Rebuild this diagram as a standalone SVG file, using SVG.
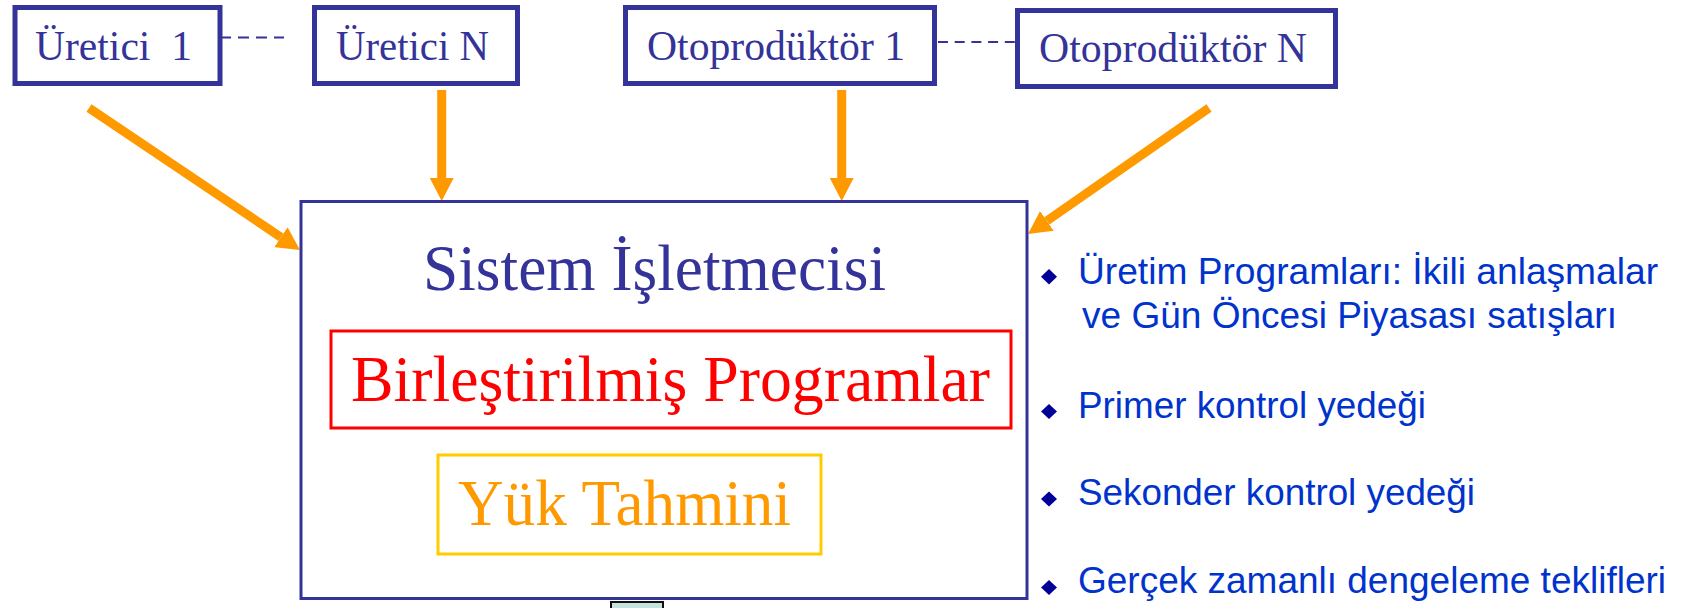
<svg xmlns="http://www.w3.org/2000/svg" width="1686" height="608" viewBox="0 0 1686 608">
  <style>
    .top { fill: #ffffff; stroke: #333399; stroke-width: 5; }
    .toptxt { font-family: "Liberation Serif", "Times New Roman", serif; font-size: 43px; fill: #333399; }
    .dash { stroke: #333399; stroke-width: 2.2; fill: none; }
    .arrow { stroke: #FF9900; stroke-width: 9; fill: none; marker-end: url(#head); }
    .big { fill: #ffffff; stroke: #333399; stroke-width: 3; }
    .serif { font-family: "Liberation Serif", "Times New Roman", serif; font-size: 66px; }
    .bul { font-family: "Liberation Sans", Arial, sans-serif; font-size: 37px; fill: #0033CC; }
    .dot { fill: #000099; }
  </style>
  <defs>
    <marker id="head" viewBox="0 0 23 24" markerWidth="23" markerHeight="24" refX="0" refY="12" markerUnits="userSpaceOnUse" orient="auto">
      <path d="M0,0 L23,12 L0,24 Z" fill="#FF9900"/>
    </marker>
  </defs>
  <rect width="1686" height="608" fill="#ffffff"/>

  <g id="connectors">
    <line class="dash" x1="220" y1="37.5" x2="284" y2="37.5" stroke-dasharray="11 7"/>
    <line class="dash" x1="938" y1="42" x2="1015" y2="42" stroke-dasharray="10 6.7"/>
    <line class="arrow" x1="89" y1="108" x2="280.9" y2="237.2"/>
    <line class="arrow" x1="441.7" y1="90" x2="441.7" y2="178"/>
    <line class="arrow" x1="841.7" y1="90" x2="841.7" y2="178"/>
    <line class="arrow" x1="1209" y1="108" x2="1046.9" y2="220.9"/>
  </g>

  <g id="uretici1">
    <rect class="top" x="15" y="7.5" width="205" height="76"/>
    <text class="toptxt" x="35" y="60" textLength="157" lengthAdjust="spacingAndGlyphs">Üretici&#160; 1</text>
  </g>
  <g id="ureticiN">
    <rect class="top" x="314.5" y="7.5" width="203" height="76"/>
    <text class="toptxt" x="336" y="60" textLength="153" lengthAdjust="spacingAndGlyphs">Üretici N</text>
  </g>
  <g id="otoproduktor1">
    <rect class="top" x="625.5" y="7.5" width="309" height="76"/>
    <text class="toptxt" x="647" y="60" textLength="258" lengthAdjust="spacingAndGlyphs">Otoprodüktör 1</text>
  </g>
  <g id="otoproduktorN">
    <rect class="top" x="1017.5" y="10.5" width="318" height="76"/>
    <text class="toptxt" x="1039" y="62" textLength="268" lengthAdjust="spacingAndGlyphs">Otoprodüktör N</text>
  </g>

  <g id="sistem-isletmecisi">
    <rect class="big" x="301" y="201.5" width="726" height="397"/>
    <text class="serif" x="423" y="290" fill="#333399" textLength="463" lengthAdjust="spacingAndGlyphs">Sistem İşletmecisi</text>
  </g>
  <g id="birlestirilmis-programlar">
    <rect x="331" y="331" width="680" height="97" fill="none" stroke="#FF0000" stroke-width="3"/>
    <text class="serif" x="351" y="401" fill="#FF0000" textLength="639" lengthAdjust="spacingAndGlyphs">Birleştirilmiş Programlar</text>
  </g>
  <g id="yuk-tahmini">
    <rect x="438" y="455" width="383" height="99" fill="none" stroke="#FFCC00" stroke-width="3"/>
    <text class="serif" x="458" y="525" fill="#FF9900" textLength="333" lengthAdjust="spacingAndGlyphs">Yük Tahmini</text>
  </g>

  <g id="small-tab">
    <rect x="611" y="602" width="52" height="8" fill="#C4E2DE" stroke="#111111" stroke-width="2"/>
  </g>

  <g id="bullets">
    <path class="dot" d="M1049,269 L1057,276.7 L1049,284.4 L1041,276.7 Z"/>
    <text class="bul" x="1078" y="284" textLength="580" lengthAdjust="spacingAndGlyphs">Üretim Programları: İkili anlaşmalar</text>
    <text class="bul" x="1082" y="328" textLength="535" lengthAdjust="spacingAndGlyphs">ve Gün Öncesi Piyasası satışları</text>
    <path class="dot" d="M1049,404 L1057,411.5 L1049,419 L1041,411.5 Z"/>
    <text class="bul" x="1078" y="418" textLength="348" lengthAdjust="spacingAndGlyphs">Primer kontrol yedeği</text>
    <path class="dot" d="M1049,491.5 L1057,499 L1049,506.5 L1041,499 Z"/>
    <text class="bul" x="1078" y="505" textLength="397" lengthAdjust="spacingAndGlyphs">Sekonder kontrol yedeği</text>
    <path class="dot" d="M1049,580 L1057,587.5 L1049,595 L1041,587.5 Z"/>
    <text class="bul" x="1078" y="593" textLength="588" lengthAdjust="spacingAndGlyphs">Gerçek zamanlı dengeleme teklifleri</text>
  </g>
</svg>
